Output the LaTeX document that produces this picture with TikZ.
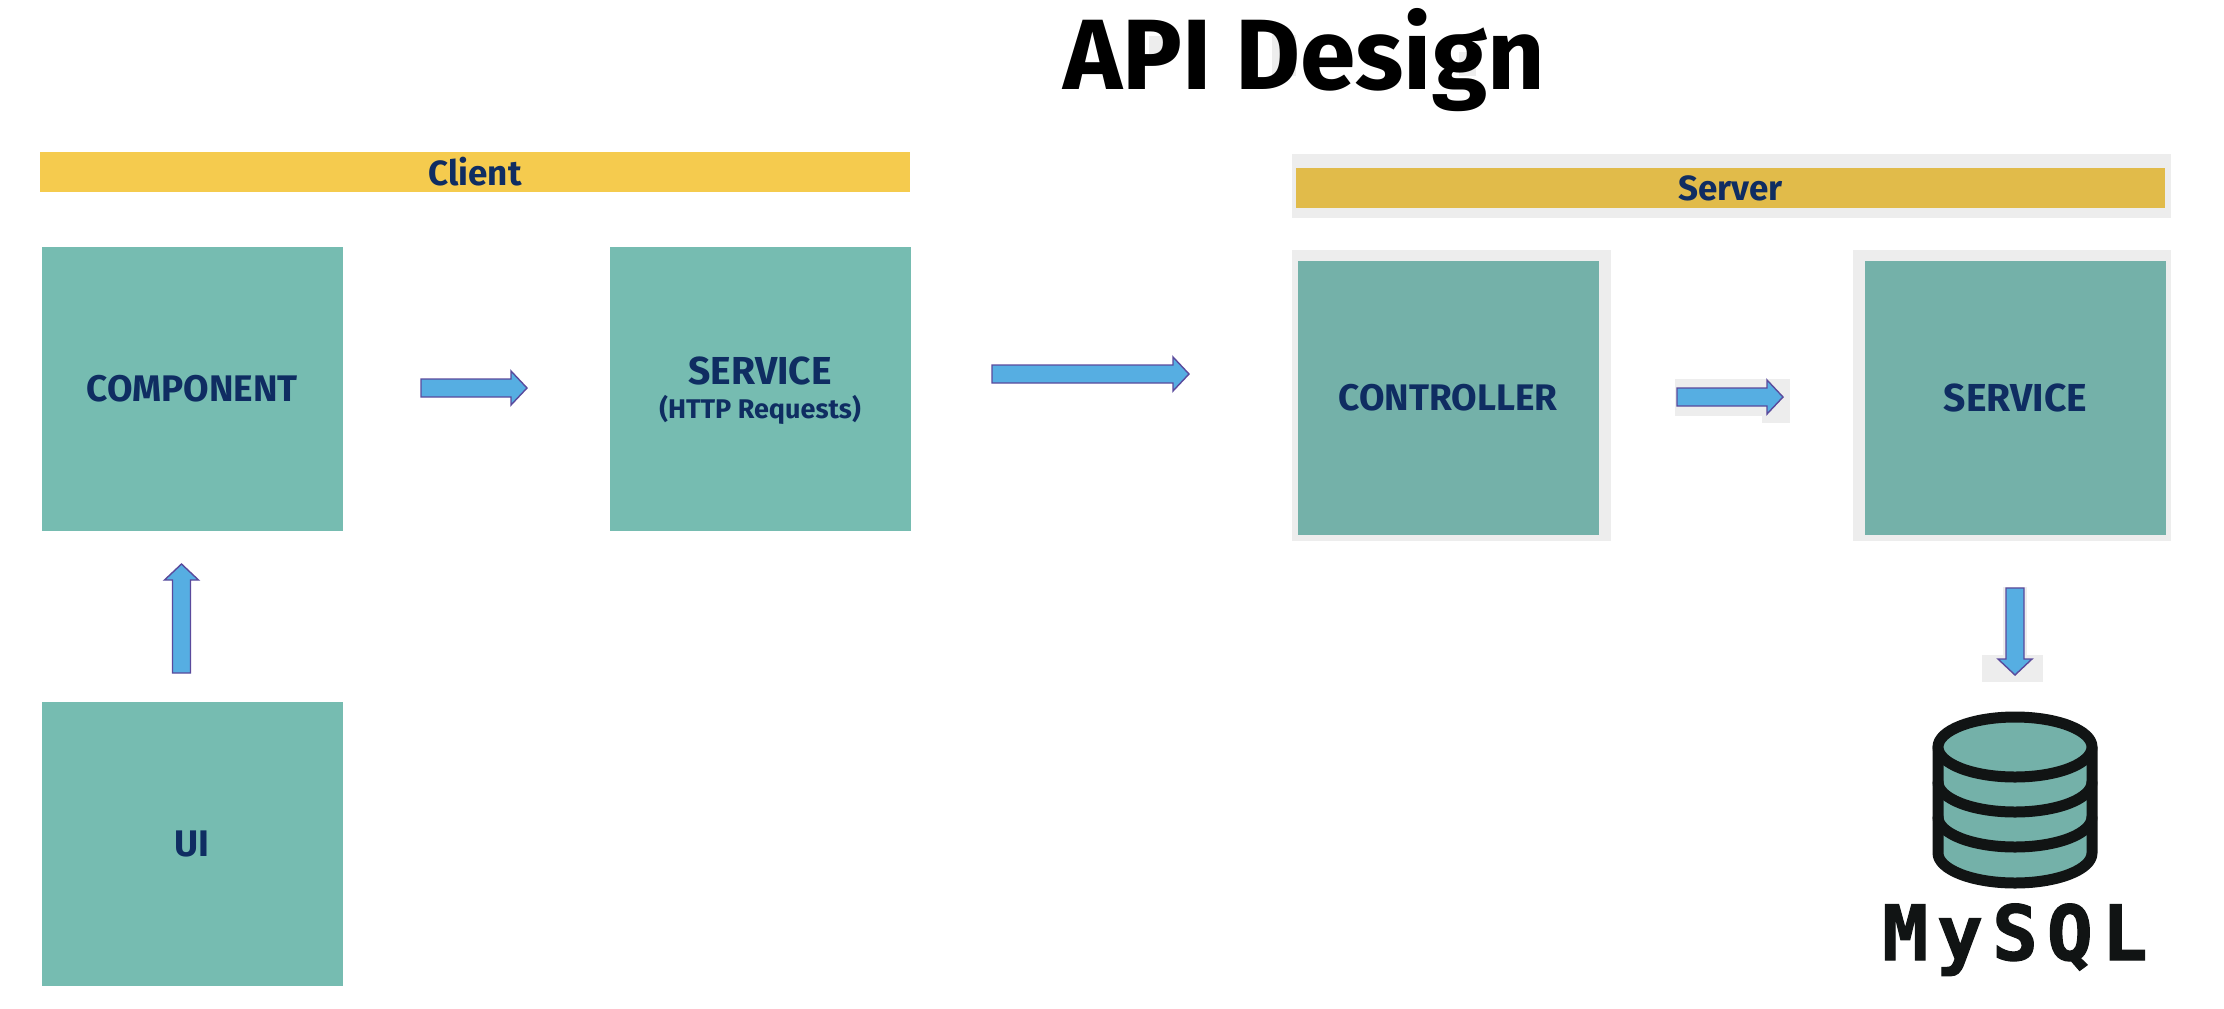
\documentclass[tikz,border=0pt]{standalone}
\usepackage{fontspec}
\usetikzlibrary{calc,positioning}
\setmainfont{Fira Sans}
\newfontfamily\logofont[LetterSpace=12,FakeBold=1.6]{DejaVu Sans Mono Bold}
\definecolor{clientteal}{HTML}{76BCB1}
\definecolor{serverteal}{HTML}{74B1A9}
\definecolor{clientbar}{HTML}{F5CB4E}
\definecolor{serverbar}{HTML}{E1BB4A}
\definecolor{inkblue}{HTML}{0F2D62}
\definecolor{arrowfill}{HTML}{56AEE2}
\definecolor{arrowedge}{HTML}{5A4A9C}
\definecolor{halo}{HTML}{EDEDED}
\definecolor{dbink}{HTML}{111414}
\newcommand{\bigword}{\fontsize{19.5}{21}\selectfont}
\tikzset{
  box/.style={minimum width=150.5pt,minimum height=142pt,inner sep=0pt,align=center,
    text=inkblue,font=\fontsize{18.5}{21}\selectfont\bfseries},
  clientbox/.style={box,fill=clientteal},
  serverbox/.style={box,fill=serverteal,minimum height=137pt},
  bar/.style={minimum height=20pt,inner sep=0pt,text=inkblue,font=\fontsize{17.5}{20}\selectfont\bfseries},
  arrowline/.style={fill=arrowfill,draw=arrowedge,line width=0.7pt,line join=miter},
  dbline/.style={draw=dbink,line width=5.5pt,line cap=round,line join=round}
}
\begin{document}
\begin{tikzpicture}[x=0.5pt,y=-0.5pt]
  \useasboundingbox (0,0) rectangle (2224,1008);

  % grey patches left round the server side
  \foreach \a/\b in {{1292,154}/{2171,218},{1292,250}/{1611,541},{1853,250}/{2171,541},{1675,379}/{1790,416},
    {1762,416}/{1790,423},{2003,587}/{2027,655},{1982,655}/{2043,682},
    {1149,36}/{1167,54},{1272,35}/{1296,76},{1459,52}/{1476,76}} {
    \fill[halo] (\a) rectangle (\b);
  }

  \node[font=\fontsize{50}{50}\selectfont\bfseries,anchor=base] (title) at (1304,89) {API Design};

  % client
  \node[bar,fill=clientbar,minimum width=435pt] (clientbar) at (475,171.5) {Client};
  \node[clientbox] (component) at (192,389) {COMPONENT};
  \node[clientbox] (service) at (760,389) {\rule{0pt}{15.6pt}{\bigword SERVICE}\\[-3.8pt]{\fontsize{13.5}{15}\selectfont (HTTP Requests)}};
  \node[clientbox] (ui) at (192,844) {UI};

  % server
  \node[bar,fill=serverbar,minimum width=434.5pt] (serverbar) at (1730.5,188) {Server};
  \node[serverbox] (controller) at (1448,398) {CONTROLLER};
  \node[serverbox] (backend) at (2015.5,398) {\bigword SERVICE};

  % arrow ends
  \coordinate (a1) at (421,388);
  \coordinate (a2) at (527,388);
  \coordinate (b1) at (992,374);
  \coordinate (b2) at (1189,374);
  \coordinate (c1) at (181.5,673);
  \coordinate (c2) at (181.5,564);
  \coordinate (d1) at (1677,397);
  \coordinate (d2) at (1783,397);
  \coordinate (e1) at (2015,588);
  \coordinate (e2) at (2015,675);

  \foreach \s/\t in {a1/a2,b1/b2,c1/c2,d1/d2,e1/e2} {
    \coordinate (base) at ($(\t)!8pt!(\s)$);
    \draw[arrowline] ($(\s)!4.5pt!90:(\t)$) -- ($(base)!4.5pt!90:(\t)$) -- ($(base)!8.5pt!90:(\t)$)
      -- (\t) -- ($(base)!8.5pt!-90:(\t)$) -- ($(base)!4.5pt!-90:(\t)$) -- ($(\s)!4.5pt!-90:(\t)$) -- cycle;
  }

  % database
  \fill[serverteal] (1938,747) -- (1938,853) arc[start angle=180,end angle=360,x radius=38.5pt,y radius=15pt]
    -- (2092,747) -- cycle;
  \draw[dbline] (1938,747) -- (1938,853) arc[start angle=180,end angle=360,x radius=38.5pt,y radius=15pt] -- (2092,747);
  \foreach \y in {782,817} {
    \draw[dbline] (1938,\y) arc[start angle=180,end angle=360,x radius=38.5pt,y radius=15pt];
  }
  \draw[dbline,fill=serverteal] (2015,747) ellipse[x radius=38.5pt,y radius=15pt];
  \node[font=\fontsize{38}{38}\logofont,text=dbink,anchor=base] (mysql) at (2015,960) {MySQL};
\end{tikzpicture}
\end{document}
